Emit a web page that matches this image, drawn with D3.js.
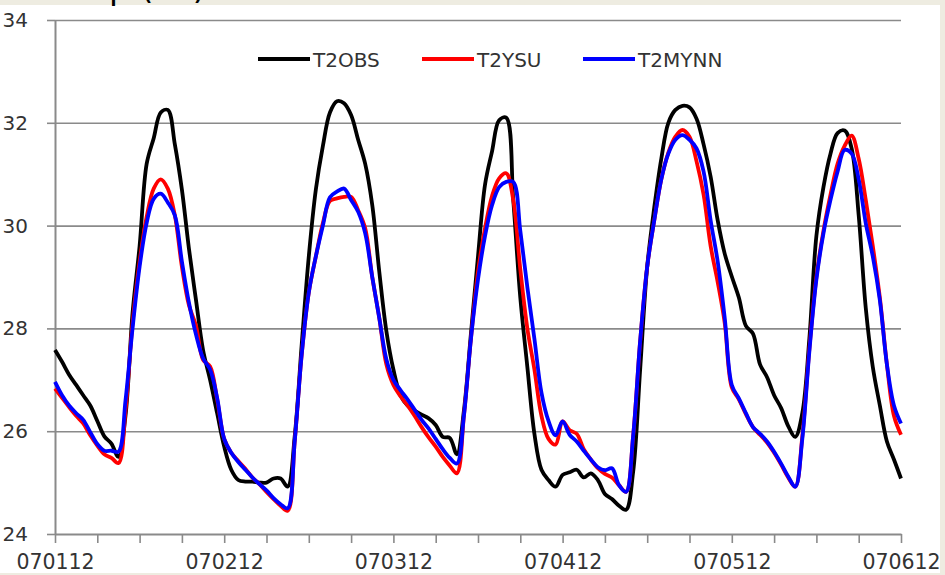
<!DOCTYPE html>
<html>
<head>
<meta charset="utf-8">
<script src="https://cdn.jsdelivr.net/npm/d3@7"></script>
<style>
  html, body { margin: 0; padding: 0; background: #EEECE1; }
  svg { display: block; }
</style>
</head>
<body>
<script>
// ---- data (hourly values, hour 0 = 070112) ----
const dateLabels = ["070112", "070212", "070312", "070412", "070512", "070612"];
const yTicks = [24, 26, 28, 30, 32, 34];
const seriesNames = ["T2OBS", "T2YSU", "T2MYNN"];
const seriesColors = ["#000000", "#FF0000", "#0000FF"];

const t2obs = [
  27.58, 27.35, 27.10, 26.90, 26.70, 26.50, 26.20, 25.90, 25.76, 25.50,
  26.30, 28.30, 29.60, 31.20, 31.70, 32.20, 32.25, 31.58, 30.70, 29.55,
  28.55, 27.58, 27.00, 26.35, 25.70, 25.25, 25.05, 25.02, 25.02, 25.00,
  25.00, 25.08, 25.08, 24.92, 25.90, 27.70, 29.40, 30.70, 31.55, 32.20,
  32.42, 32.38, 32.15, 31.67, 31.20, 30.40, 29.10, 27.95, 27.20, 26.70,
  26.50, 26.40, 26.32, 26.25, 26.12, 25.89, 25.87, 25.55, 26.40, 27.90,
  29.40, 30.80, 31.45, 32.05, 32.10, 30.50, 28.60, 27.25, 25.95, 25.25,
  25.05, 24.92, 25.15, 25.20, 25.25, 25.10, 25.18, 25.05, 24.78, 24.68,
  24.55, 24.47, 25.20, 27.20, 29.20, 30.35, 31.30, 32.00, 32.25, 32.33,
  32.30, 32.08, 31.58, 30.95, 30.10, 29.45, 29.01, 28.60, 28.05, 27.90,
  27.30, 27.05, 26.70, 26.45, 26.10, 25.89, 26.35, 27.80, 29.80, 30.75,
  31.40, 31.80, 31.85, 31.50, 30.20, 28.40, 27.25, 26.50, 25.80, 25.45,
  25.08
];
const t2ysu = [
  26.83, 26.65, 26.47, 26.30, 26.15, 25.92, 25.72, 25.55, 25.48, 25.38,
  26.40, 28.10, 29.30, 30.17, 30.72, 30.90, 30.72, 30.20, 29.20, 28.45,
  28.05, 27.39, 27.26, 26.62, 25.85, 25.58, 25.42, 25.27, 25.10, 24.97,
  24.82, 24.68, 24.55, 24.45, 25.80, 27.50, 28.70, 29.40, 30.05, 30.48,
  30.53, 30.56, 30.56, 30.30, 29.95, 29.00, 28.20, 27.30, 26.90, 26.68,
  26.50, 26.30, 26.08, 25.88, 25.70, 25.50, 25.33, 25.18, 26.30, 27.80,
  29.10, 29.95, 30.58, 30.92, 31.02, 30.50, 29.15, 28.00, 27.20, 26.30,
  25.85, 25.74, 26.19, 26.02, 25.95, 25.65, 25.45, 25.28, 25.17, 25.10,
  24.95, 24.82, 25.90, 27.75, 29.20, 30.10, 30.90, 31.42, 31.73, 31.86,
  31.73, 31.25, 30.60, 29.60, 28.90, 28.10, 26.85, 26.62, 26.33, 26.08,
  25.93, 25.78, 25.58, 25.35, 25.10, 24.92, 25.90, 27.60, 29.00, 29.90,
  30.60, 31.20, 31.55, 31.75, 31.30, 30.50, 29.60, 28.60, 27.30, 26.30,
  25.93
];
const t2mynn = [
  26.96, 26.70, 26.50, 26.35, 26.22, 25.98, 25.75, 25.62, 25.62, 25.60,
  26.60, 28.00, 29.20, 30.05, 30.52, 30.62, 30.45, 30.20, 29.30, 28.50,
  27.88, 27.42, 27.20, 26.65, 25.85, 25.58, 25.40, 25.25, 25.10, 24.97,
  24.85, 24.70, 24.58, 24.50, 25.80, 27.50, 28.70, 29.40, 30.00, 30.55,
  30.66, 30.72, 30.50, 30.27, 29.85, 29.00, 28.20, 27.40, 27.00, 26.80,
  26.62, 26.42, 26.22, 26.05, 25.85, 25.65, 25.48, 25.37, 26.30, 27.80,
  28.95, 29.80, 30.40, 30.75, 30.85, 30.85, 29.90, 28.80, 27.80, 26.75,
  26.20, 25.92, 26.19, 25.93, 25.80, 25.62, 25.45, 25.30, 25.24, 25.28,
  24.95, 24.82, 25.90, 27.75, 29.20, 30.10, 30.90, 31.40, 31.67, 31.76,
  31.67, 31.50, 31.05, 30.10, 29.30, 28.20, 26.90, 26.64, 26.35, 26.08,
  25.95, 25.80, 25.60, 25.37, 25.12, 24.92, 25.85, 27.55, 28.95, 29.85,
  30.50, 31.05, 31.47, 31.40, 30.90, 30.05, 29.40, 28.55, 27.30, 26.50,
  26.15
];
const allSeries = [t2obs, t2ysu, t2mynn];

// ---- layout ----
const W = 945, H = 575;
const plotL = 55, plotR = 901, plotT = 20, plotB = 534;
const hoursPerLabel = 24, tickEvery = 6;
const lastHour = t2obs.length - 1;

const svg = d3.select("body").append("svg").attr("width", W).attr("height", H);

// white page area with beige border
svg.append("rect").attr("x", 0).attr("y", 5).attr("width", 940).attr("height", 568).attr("fill", "#ffffff");

// title, cut off at the top edge as in the reference
svg.append("text")
  .attr("x", 42).attr("y", -1)
  .attr("font-family", "DejaVu Sans, sans-serif")
  .attr("font-size", 33)
  .attr("fill", "#000")
  .text("Temp (°C)");

const x = d3.scaleLinear().domain([0, lastHour]).range([plotL, plotR]);
const y = d3.scaleLinear().domain([24, 34]).range([plotB, plotT]);

const gridColor = "#8a8a8a";
const textColor = "#333333";
const font = "DejaVu Sans, sans-serif";

// gridlines
const grid = svg.append("g").attr("transform", `translate(${plotL},0)`)
  .call(d3.axisLeft(y).tickValues(yTicks.filter(v => v > 24)).tickSize(-(plotR - plotL)).tickFormat(""));
grid.select(".domain").remove();
grid.selectAll("line").attr("stroke", gridColor).attr("stroke-width", 1.6);

// y axis
const yAxis = svg.append("g").attr("transform", `translate(${plotL},0)`)
  .call(d3.axisLeft(y).tickValues(yTicks).tickSize(8).tickSizeOuter(0).tickPadding(19));
yAxis.select(".domain").attr("stroke", gridColor).attr("stroke-width", 2);
yAxis.selectAll("line").attr("stroke", gridColor).attr("stroke-width", 1.6);
yAxis.selectAll("text").attr("font-family", font).attr("font-size", 20).attr("fill", textColor);

// x axis
const xAxis = svg.append("g").attr("transform", `translate(0,${plotB})`)
  .call(d3.axisBottom(x)
    .tickValues(d3.range(0, lastHour + 1, tickEvery))
    .tickSize(9).tickSizeOuter(0).tickPadding(11)
    .tickFormat(d => d % hoursPerLabel === 0 ? dateLabels[d / hoursPerLabel] : ""));
xAxis.select(".domain").attr("stroke", gridColor).attr("stroke-width", 2);
xAxis.selectAll("line").attr("stroke", gridColor).attr("stroke-width", 1.6);
xAxis.selectAll("text").attr("font-family", font).attr("font-size", 20.5).attr("fill", textColor);

// lines
const line = d3.line()
  .x((d, i) => x(i))
  .y(d => y(d))
  .curve(d3.curveCatmullRom.alpha(0.5));

allSeries.forEach((s, k) => {
  svg.append("path")
    .datum(s)
    .attr("fill", "none")
    .attr("stroke", seriesColors[k])
    .attr("stroke-width", 3.8)
    .attr("stroke-linejoin", "round")
    .attr("d", line);
});

// legend
const legendX = [258, 422, 583];
const leg = svg.append("g");
seriesNames.forEach((name, k) => {
  leg.append("line")
    .attr("x1", legendX[k]).attr("x2", legendX[k] + 52)
    .attr("y1", 59).attr("y2", 59)
    .attr("stroke", seriesColors[k]).attr("stroke-width", 4);
  leg.append("text")
    .attr("x", legendX[k] + 55).attr("y", 66.5)
    .attr("font-family", font).attr("font-size", 20)
    .attr("fill", textColor)
    .text(name);
});
</script>
</body>
</html>
